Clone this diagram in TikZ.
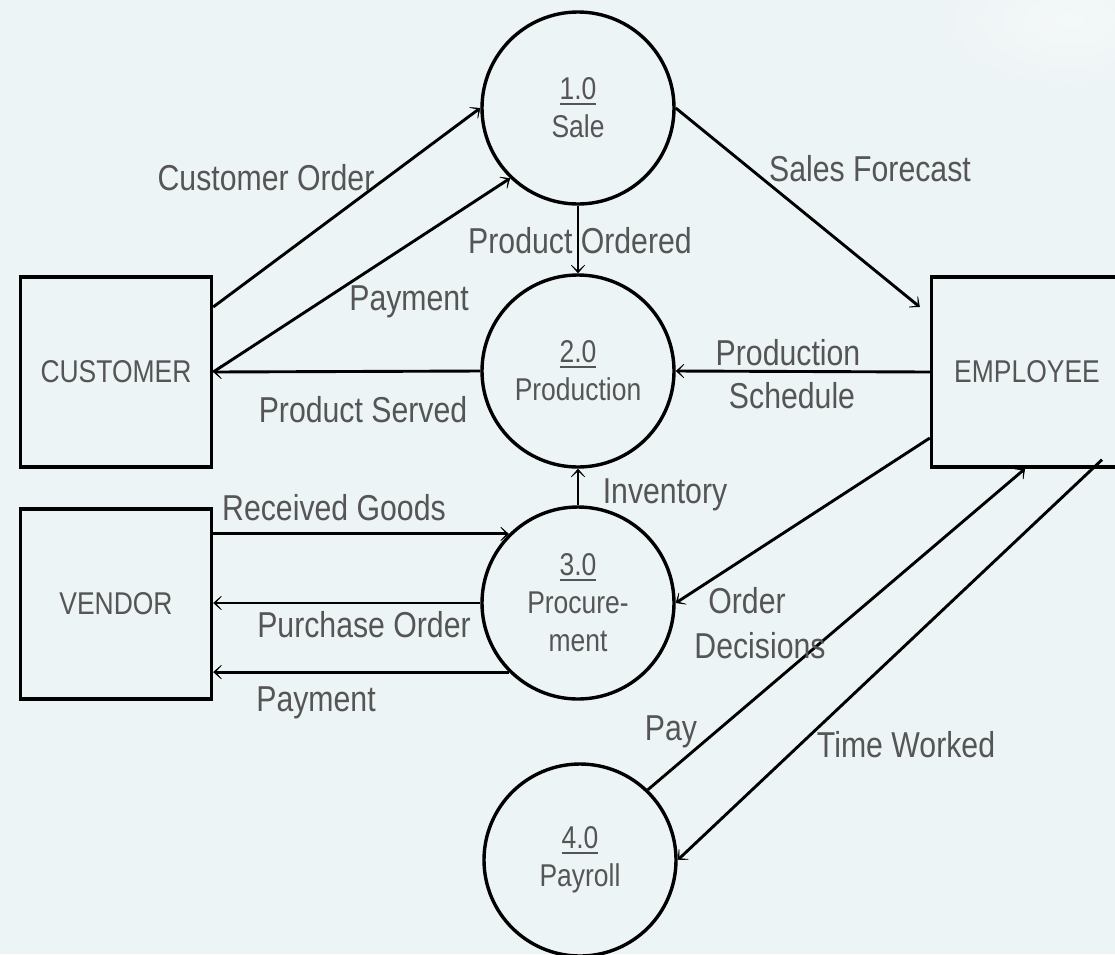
\documentclass[tikz,border=0pt]{standalone}
\usepackage{fontspec}
\setmainfont{Liberation Sans}[FakeStretch=0.84]
\usetikzlibrary{arrows.meta,calc,fadings}
\definecolor{bgcol}{RGB}{237,244,245}
\definecolor{txtcol}{RGB}{85,85,85}
% soft glow used for the light corner of the canvas
\tikzfading[name=softglow, inner color=transparent!20, outer color=transparent!100]
% process number with a heavy underline
\newcommand{\ulnum}[1]{\setbox0=\hbox{#1}\rlap{\raisebox{-5.6pt}{\rule{\wd0}{2.6pt}}}\box0}
\begin{document}
\begin{tikzpicture}[x=1pt,y=-1pt,
  process/.style={circle, draw=black, line width=3.4pt, minimum size=192pt, inner sep=0pt,
    align=center, text=txtcol, font=\fontsize{31.5}{38}\selectfont},
  entity/.style={rectangle, draw=black, line width=3.4pt, minimum width=191pt, minimum height=190pt,
    inner sep=0pt, text=txtcol, font=\fontsize{31.5}{38}\selectfont},
  flow/.style={line width=2.9pt, -{Stealth[length=12pt,width=21pt,inset=9.5pt]}},
  flowlabel/.style={anchor=base, text=txtcol, inner sep=0pt, font=\fontsize{36}{40}\selectfont}]

% canvas
\fill[bgcol] (0,0) rectangle (1115,954);
\useasboundingbox (0,0) rectangle (1115,954);
\fill[white, opacity=0.5, path fading=softglow]
  (1070,20) ellipse [x radius=150pt, y radius=80pt];

% external entities
\node[entity] (customer) at (116,372) {CUSTOMER};
\node[entity] (vendor)   at (116,604) {VENDOR};
\node[entity] (employee) at (1027,372) {EMPLOYEE};

% processes
\node[process] (sale) at (578,108) {\ulnum{1.0}\\Sale};
\node[process] (prod) at (578,371) {\ulnum{2.0}\\Production};
\node[process] (proc) at (578,603) {\ulnum{3.0}\\Procure-\\ment};
\node[process] (pay)  at (580,860) {\ulnum{4.0}\\Payroll};

% data flows
\draw[flow] ([yshift=65pt]customer.east) -- (sale.west);
\draw[flow] (customer.east) -- (sale.226);
\draw[flow] (sale.east) -- ([shift={(-10pt,65pt)}]employee.west);
\draw[flow] (sale.south) -- (prod.north);
\draw[flow] (prod.west) -- (customer.east);
\draw[flow] (employee.west) -- (prod.east);
\draw[flow] (proc.north) -- (prod.south);
\draw[flow] (vendor.east |- proc.135) -- (proc.135);
\draw[flow] (proc.west) -- (vendor.east |- proc.west);
\draw[flow] (proc.225) -- (vendor.east |- proc.225);
\draw[flow] ([yshift=-66pt]employee.west) -- (proc.east);
\draw[flow] (pay.46) -- ([xshift=-2pt]employee.south);
\draw[flow] ([shift={(75pt,9pt)}]employee.south) -- (pay.east);

% flow labels
\node[flowlabel] (lco)   at (266,190) {Customer Order};
\node[flowlabel] (lpay1) at (409,310) {Payment};
\node[flowlabel] (lpo)   at (580,253) {Product Ordered};
\node[flowlabel] (lsf)   at (870,181) {Sales Forecast};
\node[flowlabel] (lps1)  at (788,365) {Production};
\node[flowlabel] (lps2)  at (792,408) {Schedule};
\node[flowlabel] (lps)   at (363,422) {Product Served};
\node[flowlabel] (linv)  at (665,503) {Inventory};
\node[flowlabel] (lrg)   at (334,520) {Received Goods};
\node[flowlabel] (lpur)  at (364,637) {Purchase Order};
\node[flowlabel] (lpay2) at (316,711) {Payment};
\node[flowlabel] (lod1)  at (747,613) {Order};
\node[flowlabel] (lod2)  at (760,658) {Decisions};
\node[flowlabel] (lpaid) at (671,740) {Pay};
\node[flowlabel] (ltw)   at (906,757) {Time Worked};
\end{tikzpicture}
\end{document}
